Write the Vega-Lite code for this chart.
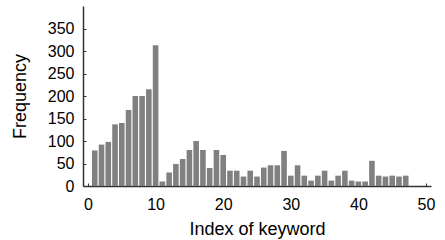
{
  "$schema": "https://vega.github.io/schema/vega-lite/v6.json",
  "width": 348,
  "height": 180,
  "autosize": {"type": "none"},
  "padding": {"left": 83, "top": 6, "right": 14, "bottom": 54},
  "background": "white",
  "config": {
    "view": {"stroke": null},
    "axis": {
      "grid": false,
      "labelFont": "Liberation Sans",
      "titleFont": "Liberation Sans",
      "labelFontSize": 16,
      "titleFontSize": 18,
      "titleFontWeight": "normal",
      "labelColor": "black",
      "titleColor": "black",
      "domainColor": "#333333",
      "tickColor": "#333333",
      "domainWidth": 1.5
    }
  },
  "data": {
    "values": [
      {"k": 1, "f": 79}, {"k": 2, "f": 92}, {"k": 3, "f": 98}, {"k": 4, "f": 137}, {"k": 5, "f": 140},
      {"k": 6, "f": 169}, {"k": 7, "f": 200}, {"k": 8, "f": 200}, {"k": 9, "f": 215}, {"k": 10, "f": 313},
      {"k": 11, "f": 10}, {"k": 12, "f": 30}, {"k": 13, "f": 49}, {"k": 14, "f": 60}, {"k": 15, "f": 80},
      {"k": 16, "f": 100}, {"k": 17, "f": 80}, {"k": 18, "f": 40}, {"k": 19, "f": 80}, {"k": 20, "f": 69},
      {"k": 21, "f": 34}, {"k": 22, "f": 34}, {"k": 23, "f": 21}, {"k": 24, "f": 34}, {"k": 25, "f": 21},
      {"k": 26, "f": 41}, {"k": 27, "f": 46}, {"k": 28, "f": 46}, {"k": 29, "f": 78}, {"k": 30, "f": 23},
      {"k": 31, "f": 46}, {"k": 32, "f": 23}, {"k": 33, "f": 12}, {"k": 34, "f": 23}, {"k": 35, "f": 34},
      {"k": 36, "f": 12}, {"k": 37, "f": 23}, {"k": 38, "f": 34}, {"k": 39, "f": 12}, {"k": 40, "f": 10},
      {"k": 41, "f": 10}, {"k": 42, "f": 56}, {"k": 43, "f": 23}, {"k": 44, "f": 21}, {"k": 45, "f": 23},
      {"k": 46, "f": 21}, {"k": 47, "f": 23}
    ]
  },
  "mark": {"type": "bar", "color": "#808080", "size": 5.6},
  "encoding": {
    "x": {
      "field": "k", "type": "quantitative",
      "scale": {"domain": [0, 50], "nice": false, "zero": false},
      "axis": {"title": "Index of keyword", "values": [0, 10, 20, 30, 40, 50], "tickSize": -3, "labelPadding": 13, "titlePadding": 8}
    },
    "y": {
      "field": "f", "type": "quantitative",
      "scale": {"domain": [0, 400], "nice": false},
      "axis": {"title": "Frequency", "values": [0, 50, 100, 150, 200, 250, 300, 350], "tickSize": -3, "labelPadding": 12, "titlePadding": 18}
    }
  }
}
